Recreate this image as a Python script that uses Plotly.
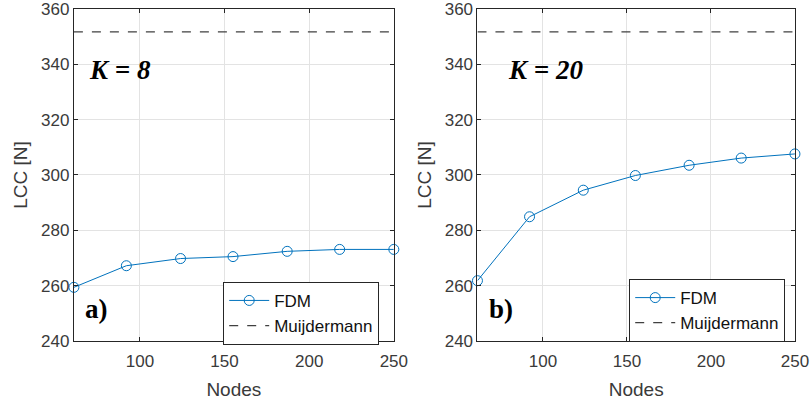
import plotly.graph_objects as go

nodes = [61, 92, 124, 155, 187, 218, 250]
fdm_k8 = [259.4, 267.2, 269.8, 270.5, 272.4, 273.1, 273.1]
fdm_k20 = [261.8, 284.9, 294.5, 299.8, 303.5, 306.1, 307.6]
muijdermann = [351.7, 351.7, 351.7, 351.7, 351.7, 351.7, 351.7]
x_ticks = [100, 150, 200, 250]
y_ticks = [240, 260, 280, 300, 320, 340, 360]
panel_k = ["K = 8", "K = 20"]
panel_tag = ["a)", "b)"]

BLUE = "#0072BD"
SANS = "Liberation Sans, Arial"
fig = go.Figure()

for i, (vals, xa, ya) in enumerate([(fdm_k8, "x", "y"), (fdm_k20, "x2", "y2")]):
    leg = "legend" if i == 0 else "legend2"
    fig.add_trace(go.Scatter(
        x=nodes, y=vals, mode="lines+markers", name="FDM",
        line=dict(color=BLUE, width=1),
        marker=dict(symbol="circle-open", size=10, color=BLUE, line=dict(width=1)),
        xaxis=xa, yaxis=ya, legend=leg, cliponaxis=False))
    fig.add_trace(go.Scatter(
        x=nodes, y=muijdermann, mode="lines", name="Muijdermann",
        line=dict(color="#404040", width=1.2, dash="dash"),
        xaxis=xa, yaxis=ya, legend=leg))

axis_common = dict(
    showline=True, mirror="ticks", linecolor="#262626", linewidth=1,
    ticks="inside", ticklen=4, tickcolor="#262626",
    showgrid=True, gridcolor="#e3e3e3", gridwidth=1, zeroline=False,
    tickfont=dict(family=SANS, size=17, color="#3a3a3a"),
    automargin=False, ticklabeloverflow="allow",
)
title_font = dict(family=SANS, size=19, color="#3a3a3a")

fig.update_layout(
    width=812, height=405, margin=dict(l=0, r=0, t=0, b=0),
    paper_bgcolor="white", plot_bgcolor="white",
    xaxis=dict(domain=[0.091, 0.485], range=[61, 250], tickvals=x_ticks, anchor="y",
               ticklabelstandoff=5,
               title=dict(text="Nodes", font=title_font, standoff=12), **axis_common),
    yaxis=dict(domain=[0.158, 0.978], range=[240, 360], tickvals=y_ticks, anchor="x",
               title=dict(text="LCC [N]", font=title_font, standoff=8), **axis_common),
    xaxis2=dict(domain=[0.588, 0.979], range=[61, 250], tickvals=x_ticks, anchor="y2",
                ticklabelstandoff=5,
                title=dict(text="Nodes", font=title_font, standoff=12), **axis_common),
    yaxis2=dict(domain=[0.158, 0.978], range=[240, 360], tickvals=y_ticks, anchor="x2",
                title=dict(text="LCC [N]", font=title_font, standoff=8), **axis_common),
    legend=dict(x=0.467, y=0.304, xanchor="right", yanchor="top",
                bordercolor="#262626", borderwidth=1, bgcolor="white",
                font=dict(family=SANS, size=17, color="#111"),
                tracegroupgap=0, itemwidth=40),
    legend2=dict(x=0.967, y=0.311, xanchor="right", yanchor="top",
                 bordercolor="#262626", borderwidth=1, bgcolor="white",
                 font=dict(family=SANS, size=17, color="#111"),
                 tracegroupgap=0, itemwidth=40),
)

serif = "Liberation Serif, Times New Roman"
for i, (xref, yref) in enumerate([("x domain", "y domain"), ("x2 domain", "y2 domain")]):
    fig.add_annotation(text="<b><i>" + panel_k[i] + "</i></b>", xref=xref, yref=yref,
                       x=0.04 if i == 0 else 0.09, y=0.815, xanchor="left", yanchor="middle",
                       showarrow=False, font=dict(family=serif, size=27, color="black"))
    fig.add_annotation(text="<b>" + panel_tag[i] + "</b>", xref=xref, yref=yref,
                       x=0.03, y=0.095, xanchor="left", yanchor="middle",
                       showarrow=False, font=dict(family=serif, size=27, color="black"))

fig.write_html("out.html", config={"displayModeBar": False},
               post_script="document.body.style.margin='0';")
